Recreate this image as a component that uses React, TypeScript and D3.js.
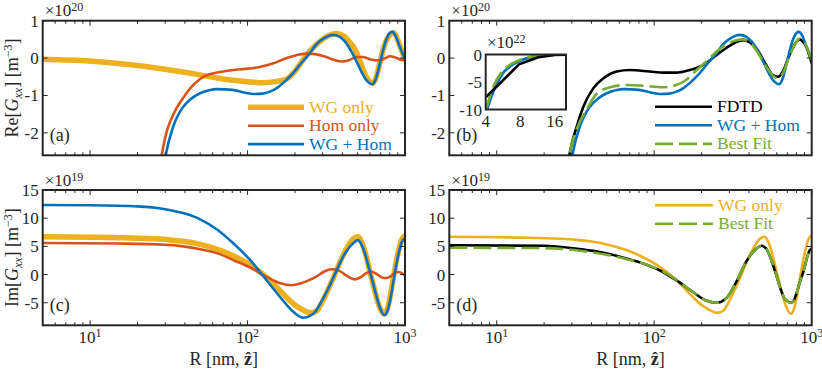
import React, { useEffect, useRef } from "react";
import * as d3 from "d3";

type Pt = [number, number];

// R [nm] vs Re[G_xx] in units of 1e20 m^-3
const reWgOnly: Pt[] = [
  [5, -0.03], [10, -0.08], [20, -0.2], [30, -0.3], [50, -0.45], [70, -0.56], [100, -0.63],
  [125, -0.66], [150, -0.63], [175, -0.57], [200, -0.35], [225, -0.05], [250, 0.2], [285, 0.43],
  [320, 0.58], [365, 0.66], [405, 0.6], [440, 0.45], [480, 0.24], [520, -0.1], [560, -0.45],
  [590, -0.61], [625, -0.67], [655, -0.52], [690, -0.15], [730, 0.26], [770, 0.52], [810, 0.64],
  [848, 0.68], [885, 0.56], [927, 0.33], [965, 0.14], [1000, -0.03],
];
const reHomOnly: Pt[] = [
  [26, -3.8], [28.5, -2.6], [30.5, -2.0], [33, -1.6], [35.5, -1.33], [40, -1.0], [43, -0.82],
  [50, -0.56], [55, -0.46], [65, -0.38], [75, -0.34], [90, -0.3], [108, -0.27], [125, -0.22],
  [146, -0.14], [165, -0.05], [186, 0.03], [210, 0.09], [240, 0.12], [275, 0.1], [310, 0.04],
  [350, -0.04], [400, -0.09], [440, -0.06], [490, 0.03], [540, 0.03], [600, -0.03], [650, -0.06],
  [700, -0.05], [750, 0.0], [800, 0.05], [850, 0.03], [900, -0.01], [950, -0.05], [1000, -0.06],
];
const reWgHom: Pt[] = [
  [27.5, -3.8], [30.2, -2.6], [33.7, -1.83], [37, -1.45], [41, -1.2], [45, -1.05], [50, -0.94],
  [57, -0.86], [64, -0.83], [80, -0.85], [95, -0.92], [110, -0.96], [125, -0.95], [140, -0.89],
  [155, -0.79], [170, -0.65], [190, -0.45], [216, -0.17], [245, 0.1], [274, 0.37], [310, 0.55],
  [350, 0.62], [385, 0.57], [420, 0.42], [460, 0.15], [500, -0.15], [540, -0.44], [580, -0.63],
  [620, -0.7], [650, -0.58], [690, -0.18], [730, 0.25], [770, 0.55], [800, 0.67], [830, 0.7],
  [870, 0.6], [927, 0.3], [965, 0.12], [1000, -0.03],
];
const reFdtd: Pt[] = [
  [26.5, -3.8], [28.9, -2.6], [32.2, -1.83], [35.5, -1.3], [41, -0.81], [47.6, -0.54],
  [57.8, -0.36], [70, -0.32], [93.6, -0.36], [115, -0.39], [138, -0.39], [168, -0.32],
  [184, -0.27], [213, -0.14], [248, 0.08], [287, 0.27], [332, 0.43], [365, 0.48], [402, 0.43],
  [445, 0.26], [515, -0.19], [565, -0.45], [608, -0.5], [655, -0.36], [721, 0.08], [799, 0.43],
  [835, 0.5], [875, 0.45], [925, 0.3], [1000, -0.14],
];
const reBestFit: Pt[] = [
  [26.5, -3.8], [28.9, -2.6], [32.2, -1.9], [37.2, -1.38], [43, -0.96], [52.5, -0.78],
  [66.5, -0.72], [85, -0.74], [114, -0.78], [138, -0.72], [155, -0.62], [168, -0.5], [184, -0.34],
  [213, -0.1], [248, 0.17], [287, 0.36], [332, 0.48], [365, 0.5], [402, 0.43], [445, 0.21],
  [515, -0.23], [578, -0.5], [608, -0.54], [655, -0.41], [721, 0.04], [799, 0.43], [835, 0.52],
  [875, 0.46], [925, 0.33], [1000, -0.1],
];

// R [nm] vs Im[G_xx] in units of 1e19 m^-3
const imWgOnly: Pt[] = [
  [5, 6.7], [15, 6.55], [25, 6.35], [32, 6.15], [40, 5.85], [50, 5.35], [65, 4.45], [83, 3.2],
  [106, 1.55], [135, -0.7], [172, -3.7], [200, -5.4], [222, -6.2], [250, -6.8], [275, -6.4],
  [301, -4.6], [349, -0.7], [404, 3.4], [467, 6.3], [502, 6.7], [540, 5.2], [575, 2.6],
  [600, 0.3], [625, -1.5], [655, -3.8], [686, -5.6], [739, -6.95], [770, -6.2], [800, -4.3],
  [840, -0.8], [880, 2.3], [920, 4.8], [956, 6.3], [1000, 6.9],
];
const imHomOnly: Pt[] = [
  [5, 5.6], [15, 5.5], [30, 5.3], [39, 5.0], [50, 4.5], [64, 3.8], [81.5, 2.55], [104, 1.25],
  [132, -0.4], [160, -1.5], [190, -1.9], [216, -1.6], [250, -0.9], [275, -0.3], [305, 0.5],
  [340, 0.95], [380, 0.7], [420, -0.1], [450, -0.6], [480, -0.85], [520, -0.5], [570, 0.3],
  [615, 0.5], [660, 0.1], [720, -0.55], [760, -0.6], [800, -0.4], [860, 0.25], [910, 0.45],
  [960, 0.2], [1000, -0.2],
];
const imWgHom: Pt[] = [
  [5, 12.35], [10, 12.3], [20, 12.1], [30, 11.6], [39, 10.9], [50, 9.8], [64, 8.0], [81.5, 5.5],
  [104, 2.55], [132, -1.0], [168, -4.6], [190, -6.3], [225, -7.65], [262, -6.95], [301, -4.3],
  [349, -0.7], [404, 3.15], [467, 5.5], [502, 6.1], [553, 4.0], [590, 1.2], [624, -1.3],
  [655, -3.6], [686, -5.5], [739, -7.2], [770, -6.6], [800, -4.9], [840, -1.6], [880, 1.7],
  [920, 4.2], [956, 5.8], [1000, 6.4],
];
const imFdtd: Pt[] = [
  [5, 5.2], [20, 5.1], [32, 4.6], [41, 4.2], [52.5, 3.6], [66.5, 2.85], [85, 1.96], [108, 0.77],
  [138, -1.0], [176, -3.1], [213, -4.6], [248, -5.0], [287, -4.2], [332, -1.3], [384, 2.3],
  [445, 4.6], [480, 5.1], [515, 4.6], [555, 2.5], [596, -0.1], [635, -2.6], [675, -4.3],
  [740, -5.0], [770, -4.6], [799, -3.4], [840, -1.4], [885, 0.5], [930, 2.8], [970, 4.3],
  [1000, 4.6],
];
const imBestFit: Pt[] = [
  [5, 4.75], [20, 4.7], [32, 4.3], [52.5, 3.4], [70, 2.6], [85, 1.95], [108, 0.85], [138, -0.9],
  [176, -3.1], [213, -4.6], [248, -5.0], [287, -4.2], [332, -1.3], [384, 2.3], [445, 4.6],
  [480, 5.0], [515, 4.6], [555, 2.5], [596, -0.1], [635, -2.6], [675, -4.3], [740, -5.0],
  [770, -4.6], [799, -3.4], [840, -1.4], [885, 0.5], [930, 2.8], [970, 4.3], [1000, 4.6],
];

// inset of panel (b), Re[G_xx] in units of 1e22 m^-3
const insetFdtd: Pt[] = [[4, -7.8], [7.8, -1.8], [11.5, -0.5], [16, -0.1], [20, -0.05]];
const insetWgHom: Pt[] = [
  [4, -10.8], [4.5, -7.6], [5, -5.3], [5.7, -3.3], [6.7, -2.0], [8.4, -0.95], [11.7, -0.25],
  [16, -0.05], [20, -0.05],
];
const insetBestFit: Pt[] = [
  [4, -10.2], [4.65, -5.9], [5.5, -3.2], [6.7, -1.7], [8.4, -0.8], [11.7, -0.2], [16, -0.05],
  [20, -0.05],
];

const xDomain = [5, 1000];
const xTickLabels = [10, 100, 1000];
const reTicks = [-2, -1, 0, 1];
const imTicks = [-5, 0, 5, 10, 15];
const insetXTicks = [4, 8, 16];
const insetYTicks = [-10, -5, 0];

const BLUE = "#0072BD";
const RED = "#D95319";
const YELLOW = "#EDB120";
const GREEN = "#77AC30";
const BLACK = "#000000";
const AXIS = "#262626";
const FONT = "'Liberation Serif', 'Times New Roman', serif";
const DASH = "18,6";

const App = () => {
  const ref = useRef<SVGSVGElement>(null);

  useEffect(() => {
    document.body.style.margin = "0";
    const svg = d3.select(ref.current);
    svg.selectAll("*").remove();
    svg.attr("font-family", FONT);

    const sup = (t: any, base: string, exp: string, size = 17, shift = 6) => {
      t.append("tspan").attr("font-size", size).text(base);
      t.append("tspan").attr("font-size", 12).attr("dy", -shift).text(exp);
    };

    const yLabel = (cx: number, cy: number, part: string) => {
      const t = svg.append("text")
        .attr("transform", `translate(${cx},${cy}) rotate(-90)`)
        .attr("text-anchor", "middle")
        .attr("font-size", 18)
        .attr("fill", AXIS);
      t.append("tspan").text(part + "[");
      t.append("tspan").attr("font-style", "italic").text("G");
      t.append("tspan").attr("font-style", "italic").attr("font-size", 12).attr("dy", 4).text("xx");
      t.append("tspan").attr("dy", -4).text("] [m");
      t.append("tspan").attr("font-size", 12).attr("dy", -6).text("\u22123");
      t.append("tspan").attr("dy", 6).text("]");
    };

    const xLabel = (cx: number, y: number) => {
      const t = svg.append("text").attr("x", cx).attr("y", y)
        .attr("text-anchor", "middle").attr("font-size", 18).attr("fill", AXIS);
      t.append("tspan").text("R [nm, ");
      t.append("tspan").attr("font-weight", "bold").text("\u1E91");
      t.append("tspan").text("]");
    };

    const drawPanel = (p: any) => {
      const x = d3.scaleLog().domain(xDomain).range([p.left, p.right]);
      const y = d3.scaleLinear().domain(p.yDomain).range([p.bottom, p.top]);

      const clipId = "clip-" + p.id;
      svg.append("clipPath").attr("id", clipId)
        .append("rect")
        .attr("x", p.left).attr("y", p.top)
        .attr("width", p.right - p.left).attr("height", p.bottom - p.top);

      const line = d3.line<Pt>()
        .x((d) => x(d[0]))
        .y((d) => y(d[1]))
        .curve(d3.curveMonotoneX);

      const g = svg.append("g").attr("clip-path", `url(#${clipId})`);
      p.series.forEach((s: any) => {
        g.append("path")
          .attr("d", line(s.data))
          .attr("fill", "none")
          .attr("stroke", s.color)
          .attr("stroke-width", s.width)
          .attr("stroke-dasharray", s.dash || null)
          .attr("stroke-linejoin", "round");
      });

      // ticks
      const ax = svg.append("g").attr("stroke", AXIS).attr("stroke-width", 1);
      x.ticks().forEach((t) => {
        const lg = Math.log10(t);
        const major = Math.abs(lg - Math.round(lg)) < 1e-9;
        const len = major ? 5 : 3;
        ax.append("line").attr("x1", x(t)).attr("x2", x(t)).attr("y1", p.bottom).attr("y2", p.bottom - len);
        ax.append("line").attr("x1", x(t)).attr("x2", x(t)).attr("y1", p.top).attr("y2", p.top + len);
      });
      p.yTicks.forEach((t: number) => {
        ax.append("line").attr("x1", p.left).attr("x2", p.left + 5).attr("y1", y(t)).attr("y2", y(t));
        ax.append("line").attr("x1", p.right).attr("x2", p.right - 5).attr("y1", y(t)).attr("y2", y(t));
        svg.append("text")
          .attr("x", p.left - 4).attr("y", y(t) + 6)
          .attr("text-anchor", "end").attr("font-size", 17).attr("fill", AXIS)
          .text(String(t));
      });

      if (p.xLabels) {
        xTickLabels.forEach((t) => {
          const tx = svg.append("text")
            .attr("x", x(t)).attr("y", p.bottom + 18)
            .attr("text-anchor", "middle").attr("fill", AXIS);
          sup(tx, "10", String(Math.round(Math.log10(t))), 17, 6);
        });
        xLabel((p.left + p.right) / 2, p.bottom + 40);
      }

      svg.append("rect")
        .attr("x", p.left).attr("y", p.top)
        .attr("width", p.right - p.left).attr("height", p.bottom - p.top)
        .attr("fill", "none").attr("stroke", AXIS).attr("stroke-width", 2);

      const mult = svg.append("text").attr("x", p.left + 2).attr("y", p.top - 4.5).attr("fill", AXIS);
      sup(mult, "\u00D710", p.exp, 17, 5);

      svg.append("text")
        .attr("x", p.left + 7).attr("y", p.bottom - 14)
        .attr("font-size", 18).attr("fill", AXIS)
        .text(`(${p.id})`);

      if (p.legend) {
        const L = p.legend;
        L.rows.forEach((r: any, i: number) => {
          const ly = L.y + i * L.step;
          svg.append("line")
            .attr("x1", L.x0).attr("x2", L.x1).attr("y1", ly).attr("y2", ly)
            .attr("stroke", r.color).attr("stroke-width", r.width)
            .attr("stroke-dasharray", r.dash || null);
          svg.append("text")
            .attr("x", L.x1 + 5).attr("y", ly + 5.5)
            .attr("font-size", 17.5).attr("fill", r.color)
            .text(r.label);
        });
      }
      return { x, y };
    };

    const top = 20.7, bot = 155.3, top2 = 190, bot2 = 325.3;
    const lx0 = 42.7, lx1 = 405, rx0 = 449.3, rx1 = 811.7;

    drawPanel({
      id: "a", left: lx0, right: lx1, top, bottom: bot, yDomain: [-2.6, 1], yTicks: reTicks, exp: "20",
      series: [
        { data: reWgOnly, color: YELLOW, width: 5.5 },
        { data: reHomOnly, color: RED, width: 2.6 },
        { data: reWgHom, color: BLUE, width: 2.6 },
      ],
      legend: {
        x0: 248, x1: 304, y: 107.3, step: 18.4,
        rows: [
          { label: "WG only", color: YELLOW, width: 5.5 },
          { label: "Hom only", color: RED, width: 2.6 },
          { label: "WG + Hom", color: BLUE, width: 2.6 },
        ],
      },
    });

    drawPanel({
      id: "b", left: rx0, right: rx1, top, bottom: bot, yDomain: [-2.6, 1], yTicks: reTicks, exp: "20",
      series: [
        { data: reFdtd, color: BLACK, width: 2.6 },
        { data: reWgHom, color: BLUE, width: 2.6 },
        { data: reBestFit, color: GREEN, width: 2.6, dash: DASH },
      ],
      legend: {
        x0: 655, x1: 712, y: 106.7, step: 18.6,
        rows: [
          { label: "FDTD", color: BLACK, width: 2.6 },
          { label: "WG + Hom", color: BLUE, width: 2.6 },
          { label: "Best Fit", color: GREEN, width: 2.6, dash: DASH },
        ],
      },
    });

    drawPanel({
      id: "c", left: lx0, right: lx1, top: top2, bottom: bot2, yDomain: [-9, 15], yTicks: imTicks, exp: "19",
      xLabels: true,
      series: [
        { data: imWgOnly, color: YELLOW, width: 5.5 },
        { data: imHomOnly, color: RED, width: 2.6 },
        { data: imWgHom, color: BLUE, width: 2.6 },
      ],
    });

    drawPanel({
      id: "d", left: rx0, right: rx1, top: top2, bottom: bot2, yDomain: [-9, 15], yTicks: imTicks, exp: "19",
      xLabels: true,
      series: [
        { data: imWgOnly, color: YELLOW, width: 2.6 },
        { data: imFdtd, color: BLACK, width: 2.6 },
        { data: imBestFit, color: GREEN, width: 2.6, dash: DASH },
      ],
      legend: {
        x0: 655, x1: 713, y: 205.3, step: 18.4,
        rows: [
          { label: "WG only", color: YELLOW, width: 2.6 },
          { label: "Best Fit", color: GREEN, width: 2.6, dash: DASH },
        ],
      },
    });

    yLabel(18, (top + bot) / 2, "Re");
    yLabel(18, (top2 + bot2) / 2, "Im");

    // inset in panel (b)
    const ix = d3.scaleLog().domain([4, 20]).range([485.7, 566]);
    const iy = d3.scaleLinear().domain([-10, 0]).range([109.5, 54.5]);
    svg.append("rect")
      .attr("x", 485.7).attr("y", 54.5).attr("width", 566 - 485.7).attr("height", 109.5 - 54.5)
      .attr("fill", "#fff");
    svg.append("clipPath").attr("id", "clip-inset")
      .append("rect").attr("x", 485.7).attr("y", 54.5).attr("width", 566 - 485.7).attr("height", 55);
    const ig = svg.append("g").attr("clip-path", "url(#clip-inset)");
    const iline = d3.line<Pt>().x((d) => ix(d[0])).y((d) => iy(d[1]));
    ig.append("path").attr("d", iline.curve(d3.curveMonotoneX)(insetWgHom))
      .attr("fill", "none").attr("stroke", BLUE).attr("stroke-width", 2.6);
    ig.append("path").attr("d", iline.curve(d3.curveMonotoneX)(insetBestFit))
      .attr("fill", "none").attr("stroke", GREEN).attr("stroke-width", 2.6).attr("stroke-dasharray", DASH);
    ig.append("path").attr("d", iline.curve(d3.curveLinear)(insetFdtd))
      .attr("fill", "none").attr("stroke", BLACK).attr("stroke-width", 2.6);
    svg.append("rect")
      .attr("x", 485.7).attr("y", 54.5).attr("width", 566 - 485.7).attr("height", 55)
      .attr("fill", "none").attr("stroke", AXIS).attr("stroke-width", 2);
    insetYTicks.forEach((t) => {
      svg.append("text").attr("x", 482).attr("y", iy(t) + 6)
        .attr("text-anchor", "end").attr("font-size", 17).attr("fill", AXIS).text(String(t));
    });
    insetXTicks.forEach((t) => {
      svg.append("text").attr("x", ix(t)).attr("y", 127)
        .attr("text-anchor", "middle").attr("font-size", 17).attr("fill", AXIS).text(String(t));
    });
    const im = svg.append("text").attr("x", 487).attr("y", 47.5).attr("fill", AXIS);
    sup(im, "\u00D710", "22", 17, 5);
  }, []);

  return (
    <svg ref={ref} width={822} height={370} style={{ display: "block", background: "#fff" }} />
  );
};

export default App;
